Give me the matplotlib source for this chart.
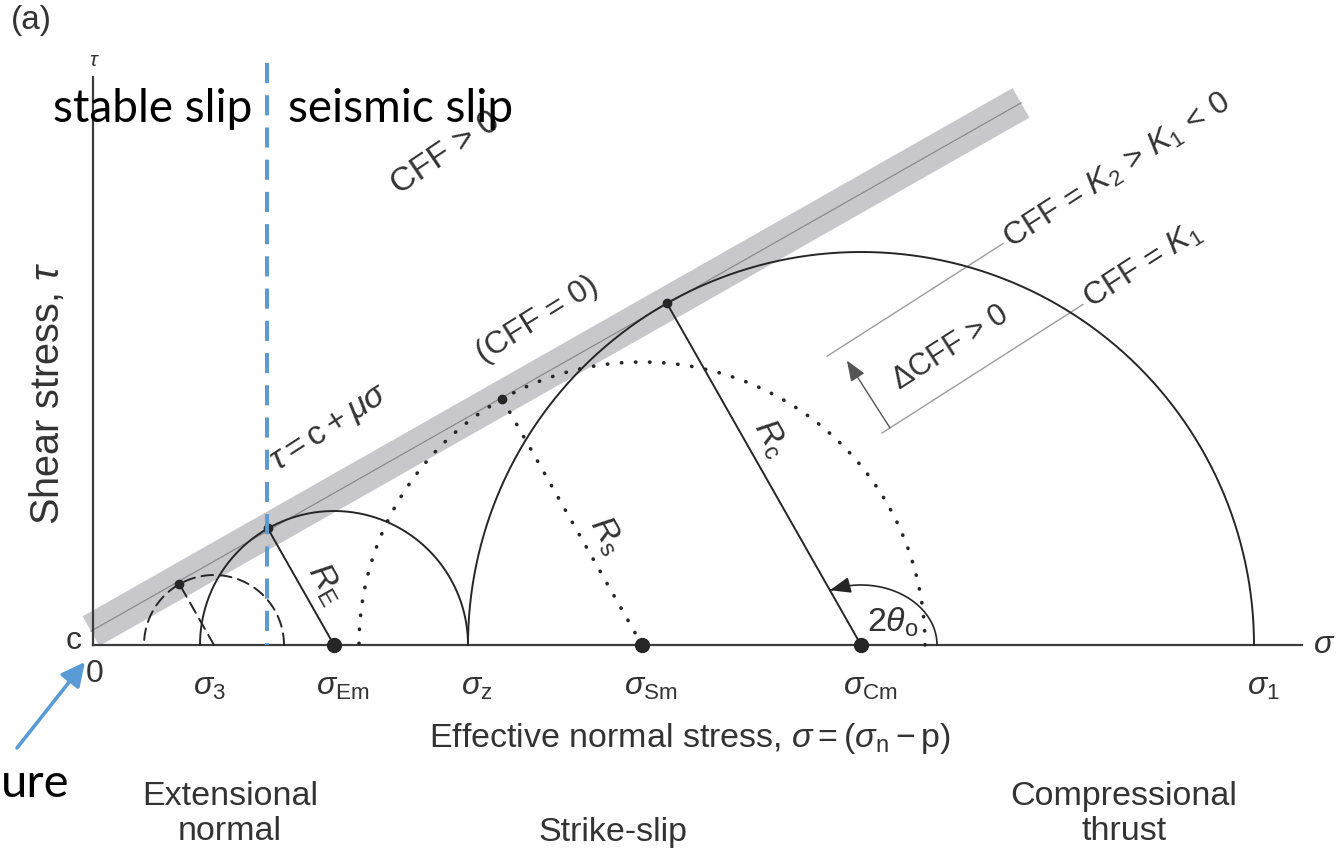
import matplotlib
matplotlib.use("Agg")
import matplotlib.pyplot as plt
import numpy as np
from matplotlib.patches import Polygon

plt.rcParams["font.family"] = ["Liberation Sans", "DejaVu Sans"]
plt.rcParams["mathtext.fontset"] = "custom"
plt.rcParams["mathtext.rm"] = "Liberation Sans"
plt.rcParams["mathtext.it"] = "Liberation Sans:italic"
plt.rcParams["mathtext.bf"] = "Liberation Sans:bold"

# Mohr circles, sigma / tau in drawing units (origin at the axes corner)
circle_centres = [121, 241, 549, 768]
circle_radii = [70, 134, 283, 393]
circle_styles = ["dashed", "solid", "dotted", "solid"]
centre_dots = [False, True, True, True]
radius_labels = [None, r"$R_{\rm E}$", r"$R_{\rm s}$", r"$R_{\rm c}$"]
radius_label_pos = [None, 0.43, 0.40, 0.57]

# failure envelope tau = c + mu * sigma
cohesion = 15
friction = 0.568
envelope_range = [-2, 928]
band_half = 17

# CFF contours, parallel-ish lines below the envelope
contour_slope = 0.64
contour_offsets = [-181, -293]
contour_ranges = [[734, 910], [789, 990]]
contour_labels = [r"CFF = $K_2\,{>}\,K_1\,{<}\,0$", r"CFF = $K_1$"]

# points marked on the sigma axis
tick_values = [107, 241, 375, 549, 768, 1161]
tick_labels = [r"$\sigma_3$", r"$\sigma_{\rm Em}$", r"$\sigma_{\rm z}$",
               r"$\sigma_{\rm Sm}$", r"$\sigma_{\rm Cm}$", r"$\sigma_1$"]

# stability boundary (blue dashed)
slip_boundary = 174

ink = "#262626"
txt = "#333333"
blue = "#5b9bd5"
fs = 24.5
fs_tick = 23
fs_note = 23

fig = plt.figure(figsize=(13.36, 8.51), dpi=100)
ax = fig.add_axes([0, 0, 1, 1])
ax.set_xlim(-93, 1243)
ax.set_ylim(-206, 645)
ax.axis("off")

# draw the axes
ax.plot([0, 1209], [0, 0], color="#3c3c3c", lw=1.6, zorder=3)
ax.plot([0, 0], [0, 568], color="#3c3c3c", lw=1.6, zorder=3)

# draw the envelope band and its centre line
phi = np.arctan(friction)
nrm = np.array([-np.sin(phi), np.cos(phi)])
s0, s1 = envelope_range
p0 = np.array([s0, cohesion + friction * s0])
p1 = np.array([s1, cohesion + friction * s1])
band = Polygon([p0 + band_half * nrm, p1 + band_half * nrm,
                p1 - band_half * nrm, p0 - band_half * nrm],
               closed=True, facecolor="#c8c8ca", edgecolor="none", zorder=1)
ax.add_patch(band)
ax.plot([p0[0], p1[0]], [p0[1], p1[1]], color="#8a8a8a", lw=0.9, zorder=1.5)

# draw circles, radii and tangent points
line_styles = {"solid": "-", "dashed": (0, (6, 3.5)), "dotted": (0, (0.1, 3.8))}
line_widths = {"solid": 1.4, "dashed": 1.4, "dotted": 2.6}
t = np.linspace(0, np.pi, 600)
theta_t = np.pi / 2 + phi
for cx, r, st, cd, lab, f in zip(circle_centres, circle_radii, circle_styles,
                                 centre_dots, radius_labels, radius_label_pos):
    ax.plot(cx + r * np.cos(t), r * np.sin(t), color=ink, ls=line_styles[st],
            lw=line_widths[st], dash_capstyle="round", zorder=4)
    tx, ty = cx + r * np.cos(theta_t), r * np.sin(theta_t)
    ax.plot([cx, tx], [0, ty], color=ink, ls=line_styles[st],
            lw=line_widths[st], dash_capstyle="round", zorder=4)
    ax.plot(tx, ty, "o", ms=6, color=ink, zorder=5)
    if cd:
        ax.plot(cx, 0, "o", ms=10, color=ink, zorder=5)
    if lab:
        u = np.array([np.cos(theta_t), np.sin(theta_t)])
        side = np.array([np.sin(theta_t), -np.cos(theta_t)])
        pos = np.array([cx, 0]) + f * r * u + 23 * side
        ax.text(pos[0], pos[1], lab, fontsize=fs, color=txt,
                rotation=np.degrees(theta_t) - 180, rotation_mode="anchor",
                ha="center", va="center")

# angle 2theta on the big circle
cC = circle_centres[3]
a, b = 76, 60
t_end = np.arctan2(a * np.sin(theta_t), b * np.cos(theta_t))
ta = np.linspace(0, t_end, 120)
ax.plot(cC + a * np.cos(ta), b * np.sin(ta), color=ink, lw=1.2, zorder=4)
ax.annotate("", xy=(cC + a * np.cos(t_end), b * np.sin(t_end)),
            xytext=(cC + a * np.cos(t_end - 0.2), b * np.sin(t_end - 0.2)),
            arrowprops=dict(arrowstyle="-|>,head_length=0.9,head_width=0.35",
                            color=ink, lw=1.2, shrinkA=0, shrinkB=0,
                            mutation_scale=14), zorder=5)
ax.text(cC + 32, 23, r"$2\theta_{\rm o}$", fontsize=fs, color=txt,
        ha="center", va="center")

# CFF contour lines and their labels
ang = np.degrees(np.arctan(contour_slope))
cdir = np.array([np.cos(np.arctan(contour_slope)), np.sin(np.arctan(contour_slope))])
for off, (sa, sb), lab in zip(contour_offsets, contour_ranges, contour_labels):
    xs = np.array([sa, sb])
    ax.plot(xs, off + contour_slope * xs, color="#9c9c9c", lw=1.0, zorder=2)
    end = np.array([sb, off + contour_slope * sb]) + 4 * cdir
    ax.text(end[0], end[1], lab, fontsize=fs_note, color=txt, rotation=ang,
            rotation_mode="anchor", ha="left", va="center")

# delta CFF arrow between the two contours
cperp = np.array([-cdir[1], cdir[0]])
tail = np.array([797, contour_offsets[1] + contour_slope * 797])
head = tail + 80 * cperp
ax.annotate("", xy=head, xytext=tail,
            arrowprops=dict(arrowstyle="-|>,head_length=0.9,head_width=0.35",
                            color="#555555", lw=1.0, shrinkA=0, shrinkB=0,
                            mutation_scale=14))
ax.text(857, 297, r"$\Delta$CFF > 0", fontsize=22, color=txt, rotation=ang,
        rotation_mode="anchor", ha="center", va="center")

# labels along the envelope
ax.text(444, 325, "(CFF = 0)", fontsize=fs_note, color=txt, rotation=32,
        rotation_mode="anchor", ha="center", va="center")
ax.text(237, 217, r"$\tau = {\rm c} + \mu\sigma$", fontsize=fs, color=txt,
        rotation=33, rotation_mode="anchor", ha="center", va="center")
ax.text(353, 492, "CFF > 0", fontsize=fs, color=txt, rotation=34,
        rotation_mode="anchor", ha="center", va="center")

# axis tick labels
for v, lab in zip(tick_values, tick_labels):
    ax.text(v + 9, -42, lab, fontsize=fs_tick, color=txt, ha="center", va="center")
ax.text(2, -29, "0", fontsize=fs_tick, color=txt, ha="center", va="center")
ax.text(-19, 4, "c", fontsize=fs_tick, color=txt, ha="center", va="center")
ax.text(1242, 0, r"$\sigma$", fontsize=fs_tick, color=txt, ha="right", va="center")
ax.text(1, 584, r"$\tau$", fontsize=15, color=txt, ha="center", va="center")
ax.text(-45, 252, r"Shear stress, $\tau$", fontsize=28.5, color=txt,
        rotation=90, ha="center", va="center")
ax.text(-62, 624, "(a)", fontsize=24, color=txt, ha="center", va="center")

ax.text(597, -94, r"Effective normal stress, $\sigma = (\sigma_{\rm n} - {\rm p})$",
        fontsize=fs, color=txt, ha="center", va="center")
ax.text(137, -169, "Extensional\nnormal", fontsize=fs, color=txt,
        ha="center", va="center", linespacing=1.18)
ax.text(520, -188, "Strike-slip", fontsize=fs, color=txt,
        ha="center", va="center")
ax.text(1031, -169, "Compressional\nthrust", fontsize=fs, color=txt,
        ha="center", va="center", linespacing=1.18)

# stable / seismic slip divide
ax.plot([slip_boundary, slip_boundary], [582, 0], color=blue, lw=2.9,
        ls=(0, (5, 3)), zorder=6)
ax.text(-40, 523, "stable slip", fontsize=33, family=["Lato", "DejaVu Sans"],
        color="black", ha="left", va="baseline", zorder=7)
ax.text(195, 523, "seismic slip", fontsize=33, family=["Lato", "DejaVu Sans"],
        color="black", ha="left", va="baseline", zorder=7)

# pointer to the cohesion intercept
ax.annotate("", xy=(-8, -17), xytext=(-76, -103),
            arrowprops=dict(arrowstyle="-|>,head_length=0.9,head_width=0.45",
                            color=blue, lw=2.6, shrinkA=0, shrinkB=0,
                            mutation_scale=16))
ax.text(-92, -152, "ure", fontsize=34, family=["Lato", "DejaVu Sans"],
        color="black", ha="left", va="baseline")

fig.savefig("out.png", dpi=100)
